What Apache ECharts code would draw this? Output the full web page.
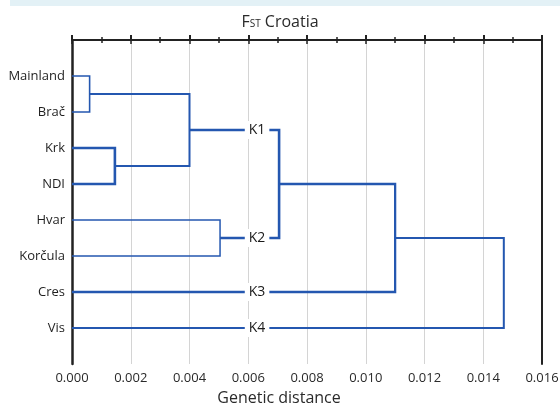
<!DOCTYPE html>
<html>
<head>
<meta charset="utf-8">
<script src="https://cdn.jsdelivr.net/npm/echarts@6/dist/echarts.min.js"></script>
<style>html,body{margin:0;padding:0;background:#fff;}#c{width:560px;height:403px;}</style>
</head>
<body>
<div id="c"></div>
<script>
// ---- data ----
const leaves = ['Mainland', 'Brač', 'Krk', 'NDI', 'Hvar', 'Korčula', 'Cres', 'Vis'];
// merges: children (leaf names or merge ids m0..), merge height (genetic distance)
const mergeLeft  = ['Mainland', 'Krk', 'm0', 'Hvar',    'm2', 'm4',   'm5'];
const mergeRight = ['Brač',     'NDI', 'm1', 'Korčula', 'm3', 'Cres', 'Vis'];
const mergeHeights = [0.0006, 0.00146, 0.0040, 0.00504, 0.00705, 0.0110, 0.0147];
// cluster labels and the node each one annotates
const clusterLabels = ['K1', 'K2', 'K3', 'K4'];
const clusterNodes  = ['m2', 'm3', 'Cres', 'Vis'];
const clusterLabelX = 0.0063;
const xTicks = [0, 0.002, 0.004, 0.006, 0.008, 0.010, 0.012, 0.014, 0.016];

// ---- styles (separate from data) ----
const mergeWidths = [1.6, 2.6, 2.0, 1.5, 2.6, 2.3, 2.0];
const lineColor = '#2457b0';
const font = 'Open Sans';

// ---- build tree geometry from data ----
const nodeY = {}, nodeH = {};
leaves.forEach((n, i) => { nodeY[n] = i + 1; nodeH[n] = 0; });
const series = [];
mergeHeights.forEach((h, i) => {
  const a = mergeLeft[i], b = mergeRight[i];
  const id = 'm' + i;
  nodeY[id] = (nodeY[a] + nodeY[b]) / 2;
  nodeH[id] = h;
  series.push({
    type: 'line', symbol: 'none', animation: false, silent: true, z: 2,
    lineStyle: { color: lineColor, width: mergeWidths[i], join: 'miter', cap: 'butt' },
    data: [[nodeH[a], nodeY[a]], [h, nodeY[a]], [h, nodeY[b]], [nodeH[b], nodeY[b]]]
  });
});
series.push({
  type: 'scatter', symbolSize: 0, animation: false, silent: true, z: 5,
  itemStyle: { opacity: 1 },
  data: clusterLabels.map((k, i) => [clusterLabelX, nodeY[clusterNodes[i]], k]),
  label: {
    show: true, position: 'inside', formatter: p => p.value[2],
    backgroundColor: '#fff', padding: [2, 4], fontSize: 14, color: '#1a1a1a',
    textBorderWidth: 0, fontFamily: font, opacity: 1
  }
});

const chart = echarts.init(document.getElementById('c'), null, { renderer: 'canvas' });
chart.setOption({
  backgroundColor: '#fff',
  animation: false,
  title: {
    text: '{a|F}{b|ST}{a| Croatia}', left: 'center', top: 9,
    textStyle: { fontWeight: 'normal', rich: {
      a: { fontSize: 16, color: '#2a2a2a', fontFamily: font, fontWeight: 'normal' },
      b: { fontSize: 10, color: '#2a2a2a', fontFamily: font, fontWeight: 'normal', verticalAlign: 'bottom', padding: [0, 0, 1, 0] }
    } }
  },
  graphic: [{ type: 'rect', shape: { x: 10, y: 0, width: 550, height: 6 }, style: { fill: '#e3f1f6' }, silent: true }],
  grid: { left: 72, right: 18, top: 40, bottom: 39, outerBoundsMode: 'none', containLabel: false },
  xAxis: [{
    type: 'value', min: xTicks[0], max: xTicks[xTicks.length - 1], interval: xTicks[1] - xTicks[0],
    name: 'Genetic distance', nameLocation: 'middle', nameGap: 26,
    nameTextStyle: { fontSize: 16, color: '#2a2a2a', fontFamily: font, padding: [0, 56, 0, 0] },
    axisLine: { show: true, lineStyle: { color: '#222', width: 2 } },
    axisTick: { show: true, inside: true, length: 5, lineStyle: { color: '#222', width: 2 } },
    minorTick: { show: true, splitNumber: 2, length: 3, lineStyle: { color: '#222', width: 1.5 } },
    axisLabel: { fontSize: 13, color: '#2a2a2a', margin: 8, fontFamily: font, formatter: v => v.toFixed(3) },
    splitLine: { show: true, lineStyle: { color: '#d4d4d4', width: 1 } }
  }, {
    type: 'value', position: 'top', min: xTicks[0], max: xTicks[xTicks.length - 1], interval: xTicks[1] - xTicks[0],
    axisLine: { show: true, lineStyle: { color: '#222', width: 2 } },
    axisTick: { show: true, inside: true, length: 4, lineStyle: { color: '#222', width: 1.5 } },
    minorTick: { show: true, splitNumber: 2, length: 3, lineStyle: { color: '#222', width: 1.5 } },
    axisLabel: { show: false }, splitLine: { show: false }
  }],
  yAxis: [{
    type: 'value', inverse: true, min: 0, max: leaves.length + 1, interval: 1,
    axisLine: { show: true, onZero: false, lineStyle: { color: '#222', width: 2.5 } },
    axisTick: { show: false },
    axisLabel: { fontSize: 13, color: '#1f1f1f', margin: 7, fontFamily: font,
      formatter: v => (v >= 1 && v <= leaves.length) ? leaves[v - 1] : '' },
    splitLine: { show: false }
  }, {
    type: 'value', inverse: true, position: 'right', min: 0, max: leaves.length + 1,
    axisLine: { show: true, onZero: false, lineStyle: { color: '#222', width: 2 } },
    axisTick: { show: false }, axisLabel: { show: false }, splitLine: { show: false }
  }],
  series: series
});
</script>
</body>
</html>
